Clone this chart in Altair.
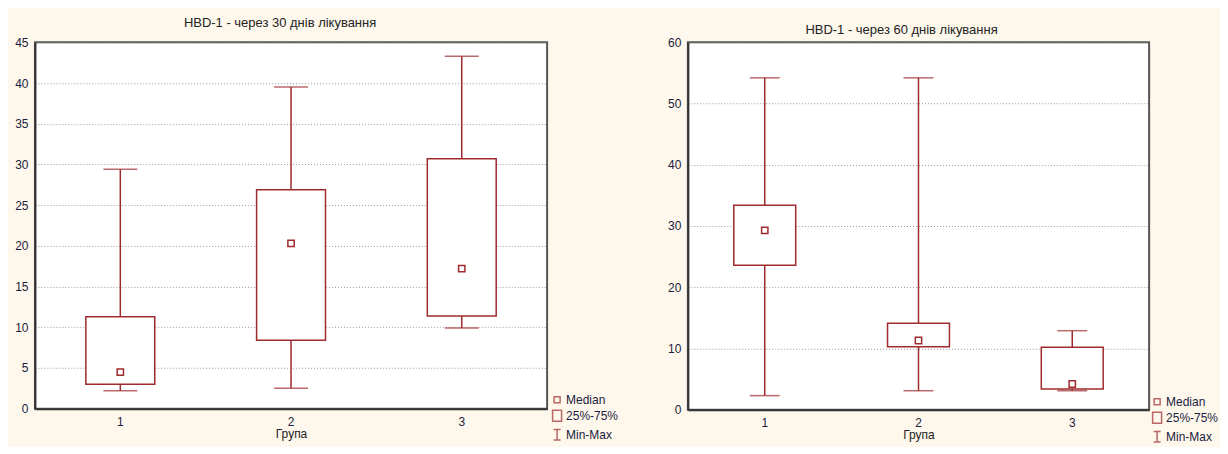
import altair as alt
import pandas as pd

# ---- data ----
groups = ["1", "2", "3"]

# Panel 1: HBD-1 after 30 days
p1_min = [2.2, 2.5, 9.9]
p1_q1 = [3.0, 8.4, 11.4]
p1_med = [4.5, 20.3, 17.2]
p1_q3 = [11.3, 26.9, 30.7]
p1_max = [29.4, 39.5, 43.3]

# Panel 2: HBD-1 after 60 days
p2_min = [2.3, 3.1, 3.1]
p2_q1 = [23.6, 10.3, 3.4]
p2_med = [29.3, 11.3, 4.2]
p2_q3 = [33.4, 14.1, 10.2]
p2_max = [54.2, 54.2, 12.9]

legend_items = ["Median", "25%-75%", "Min-Max"]

RED = "#9E2B2E"
NAVY = "#1C1C40"
CREAM = "#FEF8EC"

legend_shapes = [
    "M-0.6,-0.6H0.6V0.6H-0.6Z",
    "M-0.9,-1.1H0.9V1.1H-0.9Z",
    "M-0.7,-1.05H0.7M0,-1.05V1.05M-0.7,1.05H0.7",
]


def panel(title, mins, q1s, meds, q3s, maxs, ymax, ystep, w, h, box_w, cap_w,
          leg_x, leg_y, title_dx, title_off):
    df = pd.DataFrame({"Група": groups, "min": mins, "q1": q1s, "med": meds,
                       "q3": q3s, "max": maxs})
    x = alt.X("Група:N",
              scale=alt.Scale(paddingInner=0, paddingOuter=0),
              axis=alt.Axis(title="Група", labelAngle=0, tickSize=0,
                            labelPadding=8, titlePadding=1,
                            domainColor="#333", domainWidth=2, grid=False))
    yscale = alt.Scale(domain=[0, ymax], nice=False)
    yaxis = alt.Axis(title=None, values=list(range(0, ymax + 1, ystep)),
                     grid=True, gridDash=[1, 2], gridColor="#999999",
                     gridWidth=1, tickSize=0, labelPadding=7,
                     domainColor="#333", domainWidth=2)
    base = alt.Chart(df)
    whisker = base.mark_rule(color=RED, strokeWidth=1.5).encode(
        x=x, y=alt.Y("min:Q", scale=yscale, axis=yaxis), y2="max:Q")
    box = base.mark_bar(size=box_w, fill="white", stroke=RED,
                        strokeWidth=1.5).encode(
        x=x, y=alt.Y("q1:Q", scale=yscale, axis=yaxis), y2="q3:Q")
    capmin = base.mark_tick(size=cap_w, thickness=1.5, color=RED).encode(
        x=x, y=alt.Y("min:Q", scale=yscale, axis=yaxis))
    capmax = base.mark_tick(size=cap_w, thickness=1.5, color=RED).encode(
        x=x, y=alt.Y("max:Q", scale=yscale, axis=yaxis))
    med = base.mark_point(shape="square", size=40, filled=False, color=RED,
                          strokeWidth=1.5, opacity=1).encode(
        x=x, y=alt.Y("med:Q", scale=yscale, axis=yaxis))
    legdf = pd.DataFrame({"item": legend_items, "Група": ["1"] * 3,
                          "v": [0, 0, 0]})
    leg = alt.Chart(legdf).transform_filter("datum.v > 1").mark_point(
        filled=False, color=RED, strokeWidth=1.5).encode(
        x=x, y=alt.Y("v:Q", scale=yscale, axis=yaxis),
        shape=alt.Shape("item:N",
                        scale=alt.Scale(domain=legend_items, range=legend_shapes),
                        legend=alt.Legend(orient="none", legendX=leg_x,
                                          legendY=leg_y, title=None,
                                          labelFontSize=12, labelColor=NAVY,
                                          symbolSize=100, symbolStrokeWidth=1.5,
                                          symbolStrokeColor=RED,
                                          rowPadding=1, labelOffset=3)))
    return alt.layer(whisker, box, capmin, capmax, med, leg).properties(
        width=w, height=h,
        title=alt.TitleParams(title, dx=title_dx, offset=title_off,
                              anchor="middle"))


left = panel("HBD-1 - через 30 днів лікування", p1_min, p1_q1, p1_med, p1_q3,
             p1_max, 45, 5, 513, 367, 69, 34, 517, 352, -11, 6)
right = panel("HBD-1 - через 60 днів лікування", p2_min, p2_q1, p2_med, p2_q3,
              p2_max, 60, 10, 462, 368, 62, 30, 464, 354, -17, -1)

chart = alt.hconcat(left, right, spacing=46).resolve_scale(
    x="independent", y="independent", shape="independent"
).resolve_legend(shape="independent").configure(
    background=CREAM,
    padding={"left": 5, "top": 8, "right": 0, "bottom": 0},
    font="Liberation Sans",
).configure_view(fill="white", stroke="#555555", strokeWidth=2).configure_axis(
    labelFontSize=12, labelColor=NAVY, titleFontSize=12,
    titleFontWeight="normal", titleColor="#222222",
).configure_title(fontSize=13, fontWeight="normal", color="#222222")

chart.save("out.html", embed_options={"renderer": "svg", "actions": False})
